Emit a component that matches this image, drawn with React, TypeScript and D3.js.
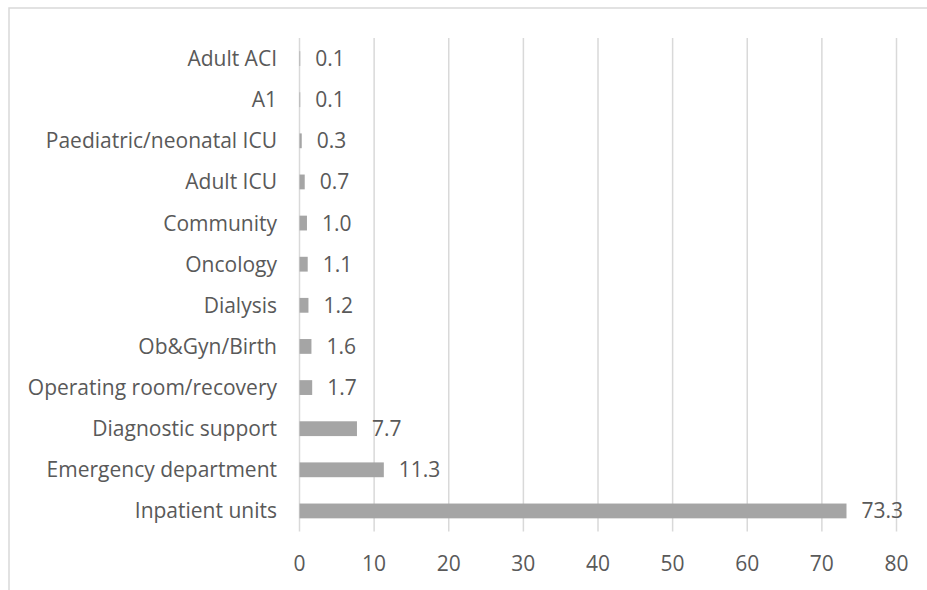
import React, { useEffect, useRef } from 'react';
import * as d3 from 'd3';

const categories = [
  'Adult ACI',
  'A1',
  'Paediatric/neonatal ICU',
  'Adult ICU',
  'Community',
  'Oncology',
  'Dialysis',
  'Ob&Gyn/Birth',
  'Operating room/recovery',
  'Diagnostic support',
  'Emergency department',
  'Inpatient units',
];
const values = [0.1, 0.1, 0.3, 0.7, 1.0, 1.1, 1.2, 1.6, 1.7, 7.7, 11.3, 73.3];
const xTicks = [0, 10, 20, 30, 40, 50, 60, 70, 80];

const W = 927;
const H = 590;

const App: React.FC = () => {
  const svgRef = useRef<SVGSVGElement>(null);

  useEffect(() => {
    const svg = d3.select(svgRef.current);
    svg.selectAll('*').remove();

    const font = "'Open Sans', sans-serif";
    const fontSize = '21px';
    const textColor = '#595959';

    // chart area border (extends beyond the window on right/bottom)
    svg.append('rect')
      .attr('x', 9)
      .attr('y', 8)
      .attr('width', W + 20)
      .attr('height', H + 20)
      .attr('fill', '#fff')
      .attr('stroke', '#d9d9d9')
      .attr('stroke-width', 1.5);

    const x = d3.scaleLinear().domain([0, 80]).range([299.5, 896.5]);
    const y = d3.scaleBand<string>()
      .domain(categories)
      .range([38, 531.5])
      .paddingInner(0.64)
      .paddingOuter(0.32);

    // gridlines
    svg.append('g')
      .selectAll('line')
      .data(xTicks)
      .join('line')
      .attr('x1', d => x(d))
      .attr('x2', d => x(d))
      .attr('y1', 38)
      .attr('y2', 531.5)
      .attr('stroke', '#d9d9d9')
      .attr('stroke-width', 1.5);

    // bars
    svg.append('g')
      .selectAll('rect')
      .data(categories)
      .join('rect')
      .attr('x', x(0))
      .attr('y', d => y(d)!)
      .attr('width', (_, i) => x(values[i]) - x(0))
      .attr('height', y.bandwidth())
      .attr('fill', '#a5a5a5');

    // value labels
    svg.append('g')
      .selectAll('text')
      .data(categories)
      .join('text')
      .attr('x', (_, i) => x(values[i]) + 15)
      .attr('y', d => y(d)! + y.bandwidth() / 2)
      .attr('dy', '0.36em')
      .style('font-family', font)
      .style('font-size', fontSize)
      .style('fill', textColor)
      .text((_, i) => values[i].toFixed(1));

    // category labels
    svg.append('g')
      .selectAll('text')
      .data(categories)
      .join('text')
      .attr('x', 277)
      .attr('y', d => y(d)! + y.bandwidth() / 2)
      .attr('dy', '0.36em')
      .attr('text-anchor', 'end')
      .style('font-family', font)
      .style('font-size', fontSize)
      .style('fill', textColor)
      .text(d => d);

    // x tick labels
    svg.append('g')
      .selectAll('text')
      .data(xTicks)
      .join('text')
      .attr('x', d => x(d))
      .attr('y', 563)
      .attr('dy', '0.36em')
      .attr('text-anchor', 'middle')
      .style('font-family', font)
      .style('font-size', fontSize)
      .style('fill', textColor)
      .text(d => String(d));
  }, []);

  return (
    <svg
      ref={svgRef}
      width={W}
      height={H}
      style={{ position: 'absolute', left: 0, top: 0, background: '#fff' }}
    />
  );
};

export default App;
